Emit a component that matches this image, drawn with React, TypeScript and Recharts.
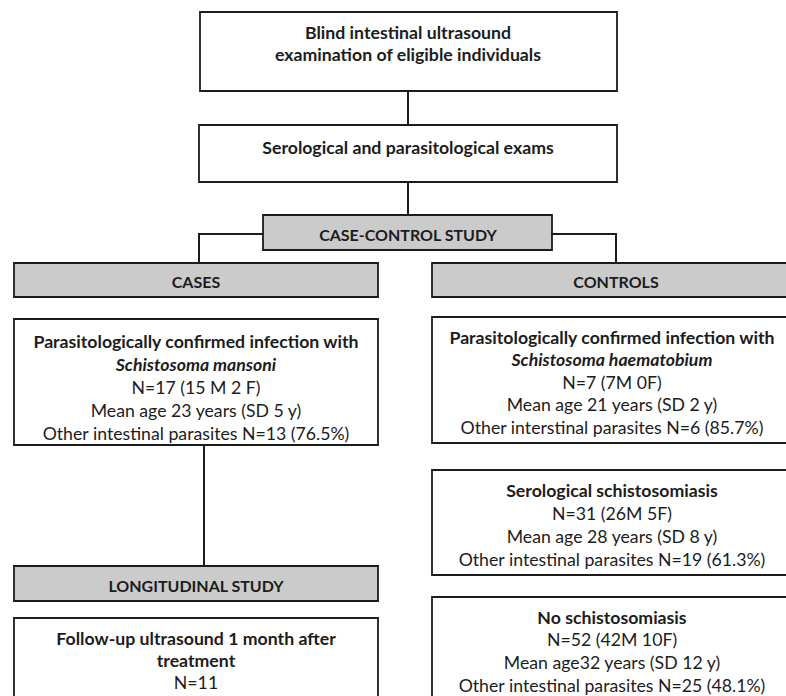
import { ReferenceArea, ReferenceLine, Scatter, ScatterChart, XAxis, YAxis } from "recharts";

const W = 786;
const H = 696;
const FONT = "Lato, 'Open Sans', sans-serif";
const INK = "#1c1c1c";
const SHADE = "#cbcbcb";

// box texts, top to bottom
const screeningLines = ["Blind intestinal ultrasound", "examination of eligible individuals"];
const examsLines = ["Serological and parasitological exams"];
const studyLines = ["CASE-CONTROL STUDY"];
const casesLines = ["CASES"];
const controlsLines = ["CONTROLS"];
const longitudinalLines = ["LONGITUDINAL STUDY"];
const mansoniLines = [
  "Parasitologically confirmed infection with",
  "Schistosoma mansoni",
  "N=17 (15 M 2 F)",
  "Mean age 23 years (SD 5 y)",
  "Other intestinal parasites N=13 (76.5%)",
];
const haematobiumLines = [
  "Parasitologically confirmed infection with",
  "Schistosoma haematobium",
  "N=7 (7M 0F)",
  "Mean age 21 years (SD 2 y)",
  "Other interstinal parasites N=6 (85.7%)",
];
const serologicalLines = [
  "Serological schistosomiasis",
  "N=31 (26M 5F)",
  "Mean age 28 years (SD 8 y)",
  "Other intestinal parasites N=19 (61.3%)",
];
const noSchistoLines = [
  "No schistosomiasis",
  "N=52 (42M 10F)",
  "Mean age32 years (SD 12 y)",
  "Other intestinal parasites N=25 (48.1%)",
];
const followUpLines = ["Follow-up ultrasound 1 month after", "treatment", "N=11"];

type Box = {
  lines: string[];
  x1: number;
  x2: number;
  y1: number;
  y2: number;
  shaded?: boolean;
  textX: number;
  textY: number;
  gap: number;
  bold: number[];
  italic?: number[];
};

// layout (px in the 786x696 frame)
const boxes: Box[] = [
  { lines: screeningLines, x1: 200, x2: 617, y1: 12, y2: 91, textX: 408, textY: 32, gap: 22, bold: [0, 1] },
  { lines: examsLines, x1: 199, x2: 617, y1: 125, y2: 182, textX: 408, textY: 147, gap: 22, bold: [0] },
  { lines: studyLines, x1: 263, x2: 552, y1: 215, y2: 250, shaded: true, textX: 408, textY: 234, gap: 22, bold: [0] },
  { lines: casesLines, x1: 14, x2: 378, y1: 263, y2: 297, shaded: true, textX: 196, textY: 281, gap: 22, bold: [0] },
  { lines: controlsLines, x1: 432, x2: 800, y1: 263, y2: 297, shaded: true, textX: 616, textY: 281, gap: 22, bold: [0] },
  { lines: mansoniLines, x1: 14, x2: 378, y1: 319, y2: 445, textX: 196, textY: 341, gap: 23, bold: [0, 1], italic: [1] },
  { lines: haematobiumLines, x1: 432, x2: 800, y1: 317, y2: 443, textX: 612, textY: 337, gap: 22.5, bold: [0, 1], italic: [1] },
  { lines: serologicalLines, x1: 432, x2: 800, y1: 470, y2: 575, textX: 612, textY: 490, gap: 23, bold: [0] },
  { lines: longitudinalLines, x1: 14, x2: 378, y1: 566, y2: 601, shaded: true, textX: 196, textY: 585, gap: 22, bold: [0] },
  { lines: noSchistoLines, x1: 432, x2: 800, y1: 597, y2: 720, textX: 612, textY: 617, gap: 22.7, bold: [0] },
  { lines: followUpLines, x1: 14, x2: 378, y1: 618, y2: 720, textX: 196, textY: 638, gap: 22, bold: [0, 1] },
];

// connector paths
const connectors = [
  [{ x: 408, y: 91 }, { x: 408, y: 125 }],
  [{ x: 408, y: 182 }, { x: 408, y: 215 }],
  [{ x: 263, y: 234 }, { x: 199, y: 234 }],
  [{ x: 199, y: 234 }, { x: 199, y: 263 }],
  [{ x: 552, y: 234 }, { x: 616, y: 234 }],
  [{ x: 616, y: 234 }, { x: 616, y: 263 }],
  [{ x: 204, y: 445 }, { x: 204, y: 566 }],
];

const textPoints = boxes.flatMap((b) =>
  b.lines.map((t, i) => ({
    x: b.textX,
    y: b.textY + i * b.gap,
    text: t,
    bold: b.bold.includes(i),
    italic: (b.italic ?? []).includes(i),
    caps: !!b.shaded,
  }))
);

const TextMark = (p: any) => (
  <text
    x={p.cx}
    y={p.cy}
    textAnchor="middle"
    dominantBaseline="central"
    fontFamily={FONT}
    fontSize={p.payload.caps ? 16 : 17.7}
    fontWeight={p.payload.bold ? 700 : 400}
    fontStyle={p.payload.italic ? "italic" : "normal"}
    fill={INK}
  >
    {p.payload.text}
  </text>
);

export default function App() {
  return (
    <div style={{ position: "absolute", left: 0, top: 0, width: W, height: H, background: "#fff" }}>
      <ScatterChart width={W} height={H} margin={{ top: 0, right: 0, bottom: 0, left: 0 }}>
        <XAxis type="number" dataKey="x" domain={[0, W]} hide allowDataOverflow />
        <YAxis type="number" dataKey="y" domain={[0, H]} reversed hide allowDataOverflow />
        {boxes.map((b, i) => (
          <ReferenceArea
            key={i}
            x1={b.x1}
            x2={b.x2}
            y1={b.y1}
            y2={b.y2}
            ifOverflow="hidden"
            fill={b.shaded ? SHADE : "#ffffff"}
            fillOpacity={1}
            stroke={INK}
            strokeWidth={1.8}
          />
        ))}
        {connectors.map((s, i) => (
          <ReferenceLine
            key={i}
            segment={s}
            stroke={INK}
            strokeWidth={2}
            strokeLinecap="square"
            ifOverflow="visible"
          />
        ))}
        <Scatter data={textPoints} shape={TextMark} isAnimationActive={false} />
      </ScatterChart>
    </div>
  );
}
